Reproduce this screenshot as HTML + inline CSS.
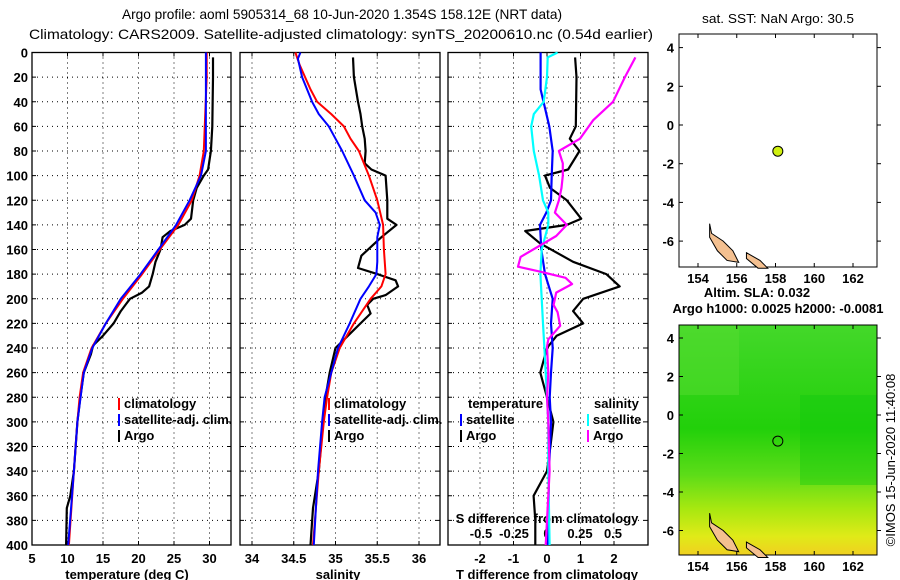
<!DOCTYPE html>
<html><head><meta charset="utf-8"><style>
body{margin:0;background:#fff;}
svg{display:block;font-family:"Liberation Sans",sans-serif;font-weight:bold;}
text{font-size:13px;fill:#000;}
</style></head><body>
<svg id="c" width="900" height="580" viewBox="0 0 900 580">
<text x="342" y="19" text-anchor="middle" textLength="440" lengthAdjust="spacingAndGlyphs" style="font-size:14px;font-weight:normal">Argo profile: aoml 5905314_68 10-Jun-2020 1.354S 158.12E (NRT data)</text>
<text x="341" y="39" text-anchor="middle" textLength="624" lengthAdjust="spacingAndGlyphs" style="font-size:14px;font-weight:normal">Climatology: CARS2009. Satellite-adjusted climatology: synTS_20200610.nc (0.54d earlier)</text>
<text x="778" y="23" text-anchor="middle" textLength="152" lengthAdjust="spacingAndGlyphs" style="font-weight:normal">sat. SST: NaN Argo: 30.5</text>
<text x="757" y="297" text-anchor="middle">Altim. SLA: 0.032</text>
<text x="778" y="313" text-anchor="middle">Argo h1000: 0.0025 h2000: -0.0081</text>
<text transform="translate(895,460) rotate(-90)" text-anchor="middle" style="font-weight:normal">©IMOS 15-Jun-2020 11:40:08</text>
<g id="g"></g>
</svg>
<script>
const tDepthArgo=[4,20,60,80,95,100,110,120,135,140,145,150,160,170,180,190,195,200,210,220,230,238,245,260,280,300,340,360,370,400];
const tArgo=[30.5,30.5,30.4,30.2,29.8,29.2,28.2,27.7,27.4,26.5,24.5,23.4,23.1,22.4,22.0,21.5,20.5,18.8,17.5,16.5,15.0,13.6,13.3,12.3,11.8,11.4,10.9,10.4,9.9,9.8];
const tDepthClim=[0,20,80,100,120,140,160,180,200,220,240,260,280,300,340,400];
const tClim=[29.6,29.6,29.2,28.6,27.5,25.6,23.0,20.5,17.8,15.4,13.4,12.2,11.7,11.4,10.9,10.2];
const tDepthSat=[0,80,100,120,140,160,180,200,220,240,260,300,340,400];
const tSat=[29.5,29.5,28.8,27.2,25.3,22.8,20.3,17.5,15.4,13.5,12.3,11.4,10.9,10.1];
const sDepthArgo=[4,20,40,50,60,70,80,90,95,100,120,135,140,150,165,175,180,185,190,197,200,205,212,220,230,240,260,280,300,340,370,400];
const sArgo=[35.21,35.22,35.27,35.30,35.32,35.35,35.36,35.35,35.43,35.6,35.62,35.62,35.73,35.55,35.31,35.27,35.5,35.72,35.75,35.6,35.45,35.38,35.42,35.3,35.15,35.0,34.93,34.88,34.85,34.8,34.73,34.7];
const sDepthClim=[0,10,30,40,50,60,70,80,100,120,140,160,180,190,200,220,240,260,280,300,340,400];
const sClim=[34.52,34.57,34.7,34.78,34.95,35.1,35.18,35.28,35.4,35.5,35.57,35.58,35.6,35.55,35.42,35.22,35.05,34.95,34.9,34.86,34.8,34.73];
const sDepthSat=[0,5,20,40,50,60,70,80,100,120,130,140,150,170,180,190,200,220,240,260,280,300,340,400];
const sSat=[34.58,34.55,34.6,34.72,34.8,34.92,35.0,35.08,35.22,35.35,35.48,35.53,35.5,35.5,35.49,35.4,35.3,35.17,35.03,34.95,34.87,34.84,34.79,34.74];
const dDepthArgoT=[4,20,60,70,80,95,100,110,120,135,140,145,155,170,180,190,200,210,220,230,240,260,280,300,320,340,360,380,400];
const dArgoT=[0.84,0.88,0.86,0.68,0.97,0.63,-0.06,0.09,0.59,1.02,0.59,-0.65,-0.21,0.78,1.77,2.17,1.08,0.78,1.08,0.29,0.0,-0.2,0.0,0.19,0.1,0.0,-0.4,-0.35,-0.35];
const dDepthSatT=[0,30,60,80,100,120,130,140,160,180,200,220,240,260,280,300,340,400];
const dSatT=[-0.19,-0.19,0.07,0.17,0.14,0.12,-0.02,-0.21,-0.17,-0.06,0.17,0.12,0.17,0.12,0.08,0.12,0.06,0.03];
const dDepthSatS=[0,4,20,40,50,60,70,80,100,120,130,140,160,180,200,220,240,260,280,300,340,400];
const dSatS=[0.08,0.005,0.0,-0.025,-0.1,-0.12,-0.11,-0.1,-0.06,-0.03,0.01,0.01,-0.04,-0.05,-0.04,-0.03,-0.02,-0.01,0.0,0.01,0.01,0.02];
const dDepthArgoS=[4,20,40,55,70,80,90,100,110,120,130,140,149,166,174,178,183,188,195,205,211,222,233,239,260,280,300,340,380,400];
const dArgoS=[0.67,0.59,0.5,0.35,0.25,0.09,0.12,0.12,0.11,0.09,0.06,0.15,0.07,-0.2,-0.22,-0.05,0.14,0.19,0.07,0.05,0.08,0.1,0.01,0.0,0.01,0.0,0.01,0.02,0.0,-0.01];
const yTicks=[0,20,40,60,80,100,120,140,160,180,200,220,240,260,280,300,320,340,360,380,400];
const tTicks=[5,10,15,20,25,30];
const sTicks=[34,34.5,35,35.5,36];
const dTicks=[-2,-1,0,1,2];
const dSTickLabels=[-0.5,-0.25,0,0.25,0.5];
const lonTicks=[154,156,158,160,162];
const latTicks=[4,2,0,-2,-4,-6];
const argoLon=158.12, argoLat=-1.354;

const NS="http://www.w3.org/2000/svg";
const G=document.getElementById('g');
function el(t,a,p){const e=document.createElementNS(NS,t);for(const k in a)e.setAttribute(k,a[k]);(p||G).appendChild(e);return e;}
const Y0=52.5,Y1=545;
const yD=d=>Y0+(Y1-Y0)*d/400;
const xT=v=>32+(v-5)*7.1;
const xS=v=>252+(v-34)*83.5;
const xDT=v=>547+v*33.5;
const xDS=v=>547+v*132;
const panels=[[32,231],[240,440],[448,648]];
function frame(i,name){
  const [a,b]=panels[i];
  const f=el('rect',{x:a,y:Y0,width:b-a,height:Y1-Y0,fill:'none',stroke:'#000','stroke-width':1.3});
  
  
  yTicks.forEach(d=>{
    if(d>0&&d<400){const l=el('line',{x1:a,x2:b,y1:yD(d),y2:yD(d),stroke:'#000','stroke-dasharray':'1,4'});
    
    }
    el('line',{x1:a,x2:a+4,y1:yD(d),y2:yD(d),stroke:'#000'});
    el('line',{x1:b-4,x2:b,y1:yD(d),y2:yD(d),stroke:'#000'});
  });
}
function vgrid(i,vals,fx){
  const [a,b]=panels[i];
  vals.forEach(v=>{const x=fx(v);
    if(x>a+1&&x<b-1){const l=el('line',{x1:x,x2:x,y1:Y0,y2:Y1,stroke:'#000','stroke-dasharray':'1,4'});
    
    }
    el('line',{x1:x,x2:x,y1:Y0,y2:Y0+4,stroke:'#000'});
    el('line',{x1:x,x2:x,y1:Y1-4,y2:Y1,stroke:'#000'});
  });
}
function xlabels(vals,fx,y,name){vals.forEach(v=>{const t=el('text',{x:fx(v),y:y,'text-anchor':'middle'});t.textContent=String(v);
  
  });}
function line(dep,vals,fx,color,w,name){
  const pts=dep.map((d,i)=>fx(vals[i]).toFixed(1)+','+yD(d).toFixed(1)).join(' ');
  const p=el('polyline',{points:pts,fill:'none',stroke:color,'stroke-width':w,'stroke-linejoin':'round'});
  
  
}
frame(0,'temperature-panel');frame(1,'salinity-panel');frame(2,'difference-panel');
vgrid(0,tTicks,xT);vgrid(1,sTicks,xS);vgrid(2,dTicks,xDT);
yTicks.forEach(d=>{const t=el('text',{x:28,y:yD(d)+5,'text-anchor':'end'});t.textContent=d;
  
  });
xlabels(tTicks,xT,563,'temperature-tick-label');
xlabels(sTicks,xS,563,'salinity-tick-label');
xlabels(dTicks,xDT,563,'tdiff-tick-label');
const sl=['-0.5','-0.25','0','0.25','0.5'];
dSTickLabels.forEach((v,i)=>{const t=el('text',{x:xDS(v),y:538,'text-anchor':'middle'});t.textContent=sl[i];
  
  });
[['temperature (deg C)',127,'temperature-axis-title'],['salinity',338,'salinity-axis-title'],['T difference from climatology',547,'tdiff-axis-title']].forEach(a=>{
  const t=el('text',{x:a[1],y:579,'text-anchor':'middle'});t.textContent=a[0];
  
  });
{const t=el('text',{x:547,y:523,'text-anchor':'middle'});t.textContent='S difference from climatology';

}
line(tDepthArgo,tArgo,xT,'#000',2.2,'temp-argo-line');
line(tDepthClim,tClim,xT,'#f00',2,'temp-climatology-line');
line(tDepthSat,tSat,xT,'#00f',2,'temp-satellite-line');
line(sDepthArgo,sArgo,xS,'#000',2.2,'sal-argo-line');
line(sDepthClim,sClim,xS,'#f00',2,'sal-climatology-line');
line(sDepthSat,sSat,xS,'#00f',2,'sal-satellite-line');
line(dDepthArgoT,dArgoT,xDT,'#000',2.2,'tdiff-argo-line');
line(dDepthSatT,dSatT,xDT,'#00f',2.2,'tdiff-satellite-line');
line(dDepthSatS,dSatS,xDS,'#0ff',2.2,'sdiff-satellite-line');
line(dDepthArgoS,dArgoS,xDS,'#f0f',2.2,'sdiff-argo-line');
function legend(x,y,items,nm){items.forEach((it,i)=>{
  el('rect',{x:x,y:y+i*16-10,width:2,height:12,fill:it[1]});
  const t=el('text',{x:x+6,y:y+i*16});t.textContent=it[0];
  
  });}
const L1=[['climatology','#f00'],['satellite-adj. clim.','#00f'],['Argo','#000']];
legend(118,408,L1,'temp-legend');legend(328,408,L1,'sal-legend');
{const t=el('text',{x:468,y:408});t.textContent='temperature';}
{const t=el('text',{x:594,y:408});t.textContent='salinity';}
legend(460,424,[['satellite','#00f'],['Argo','#000']],'tdiff-legend');
legend(587,424,[['satellite','#0ff'],['Argo','#f0f']],'sdiff-legend');
const MX0=679,MX1=877;
const xLon=v=>698+(v-154)*19.375;
function map(top,bottom,lat4,lat0,name,heat){
  const yLat=v=>lat0+(lat4-lat0)*v/4;
  if(heat){
    const defs=el('defs',{});
    const lg=el('linearGradient',{id:'hg',x1:0,y1:0,x2:0,y2:1},defs);
    [[0,'#44d82a'],[0.45,'#22d00a'],[0.65,'#5cdc18'],[0.8,'#a8e810'],[0.92,'#e0ea18'],[1,'#f0d020']].forEach(s=>el('stop',{offset:s[0],'stop-color':s[1]},lg));
    const r=el('rect',{x:MX0,y:top,width:MX1-MX0,height:bottom-top,fill:'url(#hg)'});
    
    
    el('rect',{x:MX0,y:top,width:60,height:70,fill:'#55dc30',opacity:0.5});
    el('rect',{x:800,y:top+70,width:77,height:90,fill:'#10c810',opacity:0.4});
  }
  const f=el('rect',{x:MX0,y:top,width:MX1-MX0,height:bottom-top,fill:'none',stroke:'#000','stroke-width':1});
  
  
  lonTicks.forEach(v=>{const x=xLon(v);el('line',{x1:x,x2:x,y1:bottom-4,y2:bottom,stroke:'#000'});el('line',{x1:x,x2:x,y1:top,y2:top+4,stroke:'#000'});
    const t=el('text',{x:x,y:bottom+16,'text-anchor':'middle'});t.textContent=v;
    
    });
  latTicks.forEach(v=>{const y=yLat(v);el('line',{x1:MX0,x2:MX0+4,y1:y,y2:y,stroke:'#000'});el('line',{x1:MX1,x2:MX1+4,y1:y,y2:y,stroke:'#000'});
    const t=el('text',{x:674,y:y+5,'text-anchor':'end'});t.textContent=v;
    
    });
  const isl=[[154.6,-5.1],[154.7,-5.6],[155.3,-6.0],[155.8,-6.5],[156.1,-7.1],[155.5,-7.0],[155.0,-6.5],[154.6,-5.8]];
  const p=el('polygon',{points:isl.map(q=>xLon(q[0])+','+yLat(q[1])).join(' '),fill:'#f4c090',stroke:'#000','stroke-width':1});
  
  
  const isl2=[[156.5,-6.6],[157.2,-7.0],[157.6,-7.4],[157.1,-7.4],[156.5,-6.9]];
  el('polygon',{points:isl2.map(q=>xLon(q[0])+','+yLat(q[1])).join(' '),fill:'#f4c090',stroke:'#000','stroke-width':1});
  const c=el('circle',{cx:xLon(argoLon),cy:yLat(argoLat),r:5,fill:heat?'none':'#d0f010',stroke:'#000','stroke-width':1});
  
  
}
map(34,267,47.6,125,'sst-map',false);
map(325,555,338,415,'sla-map',true);
</script>
</body></html>
